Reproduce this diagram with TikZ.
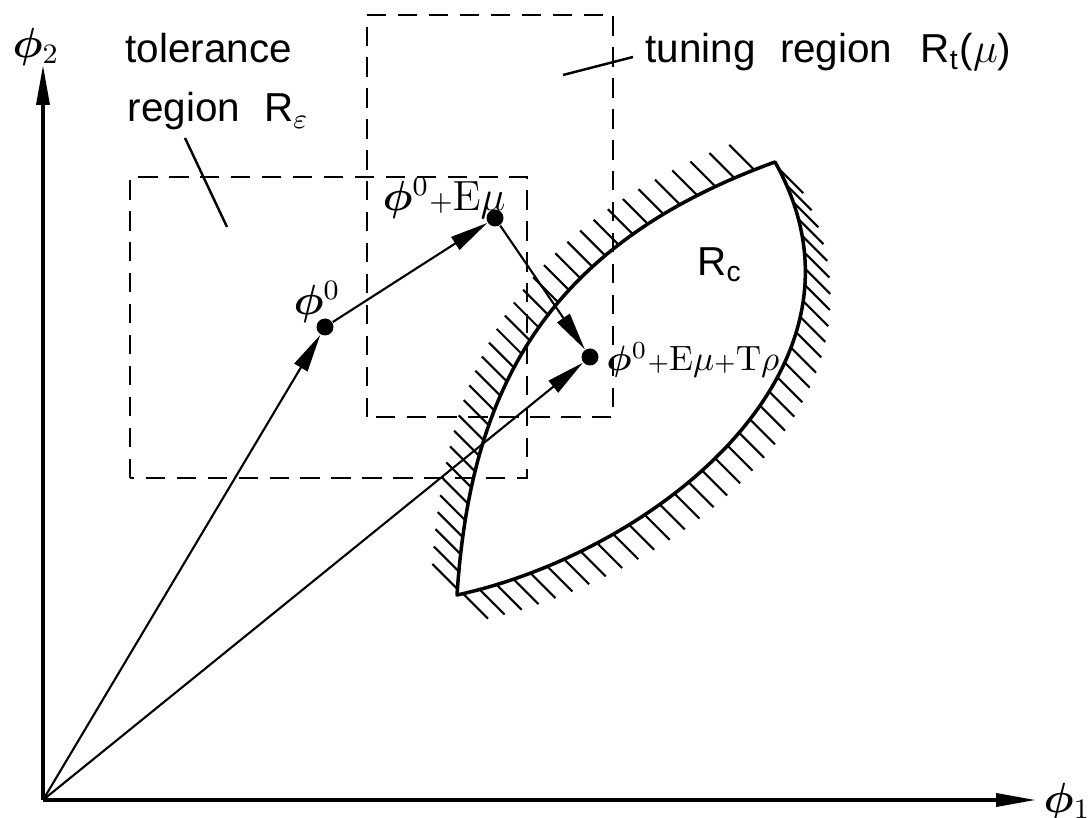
\documentclass[tikz,border=0pt]{standalone}
\usepackage{amsmath,amssymb,bm}
\usepackage[no-math]{fontspec}
\setmainfont{Liberation Sans}
\usetikzlibrary{arrows.meta, positioning}
\newcommand{\RcHatch}[6]{
    \foreach \q in {#6}{
        \path (#1) .. controls (#2) and (#3) .. (#4) coordinate[pos=\q] (H);
        \draw[hatch] (H) -- ++(#5);
    }
}

\begin{document}
\begin{tikzpicture}[
    axis/.style={line width=1pt, -{Triangle[length=4mm,width=1.3mm]}},
    vec/.style={line width=0.6pt, -{Triangle[length=3.8mm,width=1.5mm]}},
    box/.style={line width=0.7pt, dash pattern=on 5.5pt off 3.3pt},
    lead/.style={line width=0.7pt},
    hatch/.style={line width=0.6pt},
    dot/.style={circle, fill, inner sep=0pt, minimum size=1.7mm},
    lbl/.style={font=\fontsize{11.5}{14}\selectfont, inner sep=0pt},
    mlbl/.style={font=\fontsize{10}{12}\selectfont, inner sep=0pt},
]
    \useasboundingbox (0,0) rectangle (10.89,8.17);

    \coordinate (O) at (0.43, 0.17);
    \coordinate (Y) at (0.43, 7.52);
    \coordinate (X) at (10.36, 0.17);
    \coordinate (A) at (4.57, 2.22);
    \coordinate (B) at (7.75, 6.55);
    \coordinate (tl1) at (1.85, 6.79);
    \coordinate (tl2) at (2.27, 5.90);
    \coordinate (tu1) at (5.63, 7.42);
    \coordinate (tu2) at (6.33, 7.60);

    % axes
    \draw[axis] (O) -- (Y);
    \draw[axis] (O) -- (X);
    \node[lbl, anchor=west] (phi1) at (10.43, 0.15) {$\bm{\phi}_1$};
    \node[lbl] (phi2) at (0.36, 7.70) {$\bm{\phi}_2$};

    % regions
    \draw[box] (1.30, 3.39) rectangle (5.27, 6.40);
    \draw[box] (3.67, 4.00) rectangle (6.13, 8.02);
    \draw[line width=1pt, line join=round]
        (A) .. controls (4.70, 4.20) and (5.40, 5.70) .. (B)
            .. controls (8.90, 4.50) and (6.55, 2.65) .. (A) -- cycle;
    \RcHatch{A}{4.70, 4.20}{5.40, 5.70}{B}{-0.25, 0.25}{0.01,0.04,...,0.99}
    \RcHatch{B}{8.90, 4.50}{6.55, 2.65}{A}{0.25, -0.25}{0.01,0.038,...,0.99}

    \node[lbl, anchor=base west] (tol) at (1.25, 7.54) {tolerance};
    \node[lbl, anchor=base west] (reg) at (1.27, 6.95) {region\hspace{0.6em}R$_{\varepsilon}$};
    \node[lbl, anchor=base west] (tun) at (6.45, 7.54) {tuning\hspace{0.6em}region\hspace{0.7em}R$_{\text{t}}$($\mu$)};
    \node[lbl] (rc) at (7.20, 5.52) {R$_{\text{c}}$};
    \draw[lead] (tl1) -- (tl2);
    \draw[lead] (tu1) -- (tu2);

    % points and vectors
    \node[dot] (p0) at (3.25, 4.90) {};
    \node[dot] (p1) at (4.95, 5.99) {};
    \node[dot] (p2) at (5.90, 4.60) {};
    \draw[vec] (O) -- (p0);
    \draw[vec] (O) -- (p2);
    \draw[vec] (p0) -- (p1);
    \draw[vec] (p1) -- (p2);
    \node[lbl] (l0) at (3.17, 5.15) {$\bm{\phi}^0$};
    \node[lbl] (l1) at (4.44, 6.19) {$\bm{\phi}^0{\scriptstyle+}\mathrm{E}\mu$};
    \node[mlbl, anchor=west] (l2) at (6.06, 4.57) {$\bm{\phi}^0{\scriptstyle+}\mathrm{E}\mu{\scriptstyle+}\mathrm{T}\rho$};
\end{tikzpicture}
\end{document}
